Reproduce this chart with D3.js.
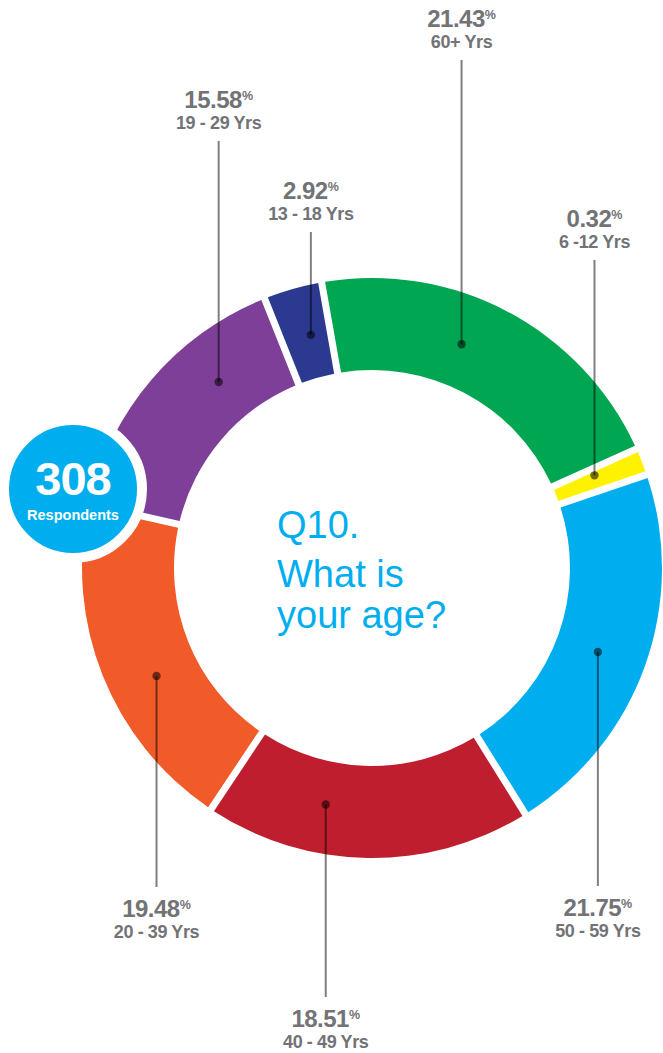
<!DOCTYPE html>
<html>
<head>
<meta charset="utf-8">
<script src="https://cdn.jsdelivr.net/npm/d3@7"></script>
<style>
  html, body { margin: 0; padding: 0; background: #fff; }
  svg { display: block; }
</style>
</head>
<body>
<svg id="chart" width="663" height="1053"></svg>
<script>
// Age groups, listed clockwise from the top of the ring
const categories = ["60+ Yrs", "6 -12 Yrs", "50 - 59 Yrs", "40 - 49 Yrs", "20 - 39 Yrs", "19 - 29 Yrs", "13 - 18 Yrs"];
const shares = [21.43, 0.32, 21.75, 18.51, 19.48, 15.58, 2.92];
const shareLabels = ["21.43", "0.32", "21.75", "18.51", "19.48", "15.58", "2.92"];
const sliceColors = ["#00a651", "#fff200", "#00aeef", "#be1e2d", "#f15a29", "#7d3f98", "#2b3990"];
const respondents = 308;
const questionLines = ["Q10.", "What is", "your age?"];

// Layout settings for the leader lines and their labels
const leaderFraction = [0.42, 0.3, 0.51, 0.655, 0.43, 0.68, 0.6]; // where along each slice the leader starts
const labelBaseline = [27, 227, 916, 1027, 917, 108, 199];         // baseline of each percentage label
const MIN_VISIBLE_SHARE = 1.1; // very thin slices are widened so they stay visible

const svg = d3.select("#chart");
const cx = 372, cy = 568, outerR = 290, innerR = 198, leaderR = 241;
const gap = 7;
const startAngle = -10 * Math.PI / 180;

const data = categories.map((c, i) => ({
  category: c, share: shares[i], label: shareLabels[i], color: sliceColors[i],
  frac: leaderFraction[i], baseline: labelBaseline[i]
}));

const pie = d3.pie()
  .sort(null)
  .value(d => Math.max(d.share, MIN_VISIBLE_SHARE))
  .startAngle(startAngle)
  .endAngle(startAngle + 2 * Math.PI)
  .padAngle(gap / 244);

const arc = d3.arc()
  .innerRadius(innerR)
  .outerRadius(outerR)
  .padRadius(244);

const arcs = pie(data);

const ring = svg.append("g").attr("transform", `translate(${cx},${cy})`);
ring.selectAll("path.slice")
  .data(arcs)
  .join("path")
  .attr("class", "slice")
  .attr("d", arc)
  .attr("fill", d => d.data.color);

// Leader lines and labels
const textColor = "#727376";
const labels = svg.append("g");
arcs.forEach(a => {
  const d = a.data;
  const ang = a.startAngle + (a.endAngle - a.startAngle) * d.frac;
  const x = cx + leaderR * Math.sin(ang);
  const y = cy - leaderR * Math.cos(ang);
  const above = d.baseline < cy;
  const lineEnd = above ? d.baseline + 33 : d.baseline - 30;

  labels.append("line")
    .attr("x1", x).attr("y1", y)
    .attr("x2", x).attr("y2", lineEnd)
    .attr("stroke", "#000").attr("stroke-opacity", 0.5)
    .attr("stroke-width", 2);
  labels.append("circle")
    .attr("cx", x).attr("cy", y).attr("r", 4.2)
    .attr("fill", "#000").attr("fill-opacity", 0.55);

  const pct = labels.append("text")
    .attr("x", x).attr("y", d.baseline)
    .attr("text-anchor", "middle")
    .attr("font-family", "Liberation Sans, Arial, sans-serif")
    .attr("font-weight", "bold")
    .attr("fill", textColor);
  pct.append("tspan")
    .attr("font-size", 24)
    .attr("letter-spacing", -0.5)
    .text(d.label);
  pct.append("tspan")
    .attr("font-size", 12.5)
    .attr("dy", -8)
    .text("%");

  labels.append("text")
    .attr("x", x).attr("y", d.baseline + 21)
    .attr("text-anchor", "middle")
    .attr("font-family", "Liberation Sans, Arial, sans-serif")
    .attr("font-weight", "bold")
    .attr("font-size", 18)
    .attr("letter-spacing", -0.4)
    .attr("fill", textColor)
    .text(d.category);
});

// Question in the middle of the ring
const q = svg.append("g")
  .attr("font-family", "Liberation Sans, Arial, sans-serif")
  .attr("font-size", 38)
  .attr("fill", "#00aeef");
const qBase = [538, 587, 628];
questionLines.forEach((t, i) => {
  q.append("text").attr("x", 277).attr("y", qBase[i]).text(t);
});

// Respondent count badge
const badge = svg.append("g").attr("transform", "translate(73,489)");
badge.append("circle")
  .attr("r", 69)
  .attr("fill", "#00aeef")
  .attr("stroke", "#fff")
  .attr("stroke-width", 10);
badge.append("text")
  .attr("y", 6)
  .attr("text-anchor", "middle")
  .attr("font-family", "Liberation Sans, Arial, sans-serif")
  .attr("font-weight", "bold")
  .attr("font-size", 47)
  .attr("letter-spacing", -1)
  .attr("fill", "#fff")
  .text(respondents);
badge.append("text")
  .attr("y", 31)
  .attr("text-anchor", "middle")
  .attr("font-family", "Liberation Sans, Arial, sans-serif")
  .attr("font-weight", "bold")
  .attr("font-size", 14.5)
  .attr("fill", "#fff")
  .text("Respondents");
</script>
</body>
</html>
